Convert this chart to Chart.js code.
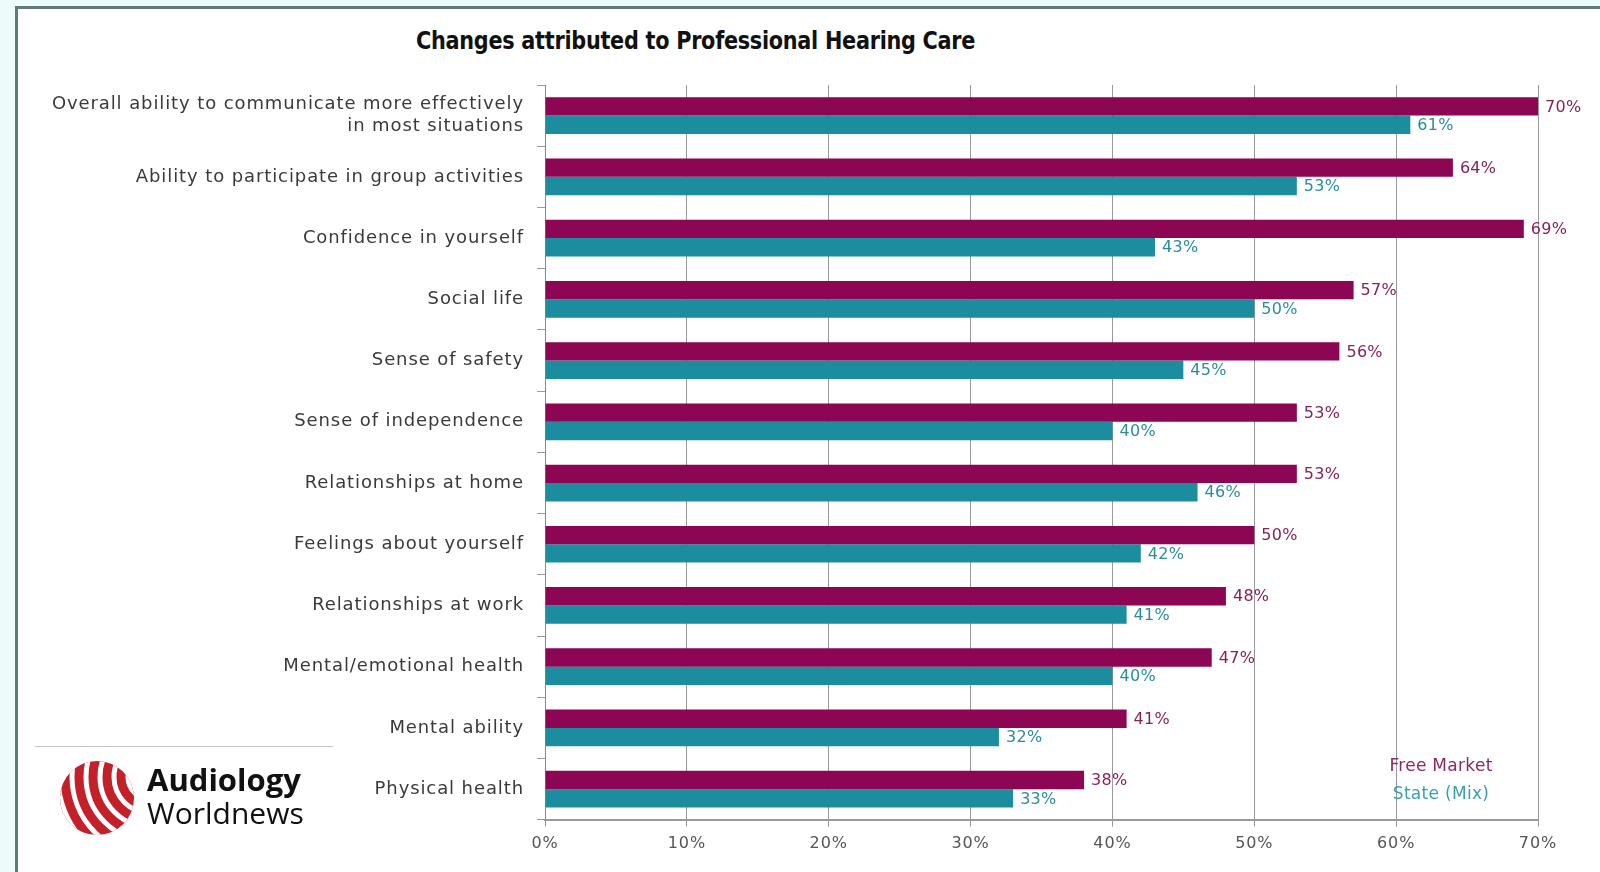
<!DOCTYPE html>
<html>
<head>
<meta charset="utf-8">
<script src="https://cdn.jsdelivr.net/npm/chart.js@4/dist/chart.umd.min.js"></script>
<style>
  html, body { margin: 0; padding: 0; }
  body { width: 1600px; height: 872px; background: #eefbfb; position: relative; overflow: hidden; }
  #frame { position: absolute; left: 15px; top: 6px; width: 1600px; height: 900px;
           background: #fff; border-left: 3px solid #5f7c76; border-top: 3px solid #5f7c76; }
  #title { position: absolute; left: 416px; top: 26px; font-family: "DejaVu Sans Condensed", "DejaVu Sans"; font-weight: bold;
           font-size: 25px; color: #111; letter-spacing: -0.3px; white-space: nowrap;
           transform: scaleX(0.925); transform-origin: left center; }
  #chart { position: absolute; left: 0; top: 0; }
  #rule { position: absolute; left: 35px; top: 746px; width: 298px; height: 1px; background: #c8c8c8; }
  #logo { position: absolute; left: 58px; top: 759px; }
  #brand { position: absolute; left: 147px; top: 762px; font-family: "Open Sans"; color: #111; line-height: 34px; }
  #brand b { font-size: 31px; font-weight: bold; display: block; }
  #brand span { font-size: 30px; display: block; }
</style>
</head>
<body>
<div id="frame"></div>
<div id="title">Changes attributed to Professional Hearing Care</div>
<canvas id="chart" width="1600" height="872"></canvas>
<div id="rule"></div>
<svg id="logo" width="78" height="78" viewBox="0 0 78 78">
  <defs><clipPath id="c"><circle cx="39" cy="39" r="37"/></clipPath></defs>
  <circle cx="39" cy="39" r="37" fill="#c4202a"/>
  <g clip-path="url(#c)" fill="none" stroke="#fff" stroke-width="5">
    <circle cx="92" cy="18" r="22"/>
    <circle cx="92" cy="18" r="36"/>
    <circle cx="92" cy="18" r="50"/>
    <circle cx="92" cy="18" r="64"/>
    <circle cx="92" cy="18" r="78"/>
    <circle cx="92" cy="18" r="92"/>
  </g>
</svg>
<div id="brand"><b>Audiology</b><span>Worldnews</span></div>

<script>
// categories, top to bottom
const categories = [
  ["Overall ability to communicate more effectively", "in most situations"],
  "Ability to participate in group activities",
  "Confidence in yourself",
  "Social life",
  "Sense of safety",
  "Sense of independence",
  "Relationships at home",
  "Feelings about yourself",
  "Relationships at work",
  "Mental/emotional health",
  "Mental ability",
  "Physical health"
];

// % of respondents
const freeMarket = [70, 64, 69, 57, 56, 53, 53, 50, 48, 47, 41, 38];
const stateMix   = [61, 53, 43, 50, 45, 40, 46, 42, 41, 40, 32, 33];

const xTicks = [0, 10, 20, 30, 40, 50, 60, 70];

const MAGENTA = "#8c0653";
const TEAL = "#1b8d9f";
const FONT = "DejaVu Sans";

// the original uses a wide geometric face, so spread the axis text a little
const wideText = {
  id: "wideText",
  beforeDraw(chart) { chart.ctx.letterSpacing = "0.9px"; }
};

// value labels at the end of each bar
const valueLabels = {
  id: "valueLabels",
  afterDatasetsDraw(chart) {
    const ctx = chart.ctx;
    ctx.save();
    ctx.letterSpacing = "0.3px";
    ctx.font = "16px '" + FONT + "'";
    ctx.textBaseline = "middle";
    ctx.textAlign = "left";
    chart.data.datasets.forEach((ds, i) => {
      const meta = chart.getDatasetMeta(i);
      ctx.fillStyle = ds.labelColor;
      meta.data.forEach((bar, j) => {
        ctx.fillText(ds.data[j] + "%", bar.x + 7, bar.y + 1);
      });
    });
    ctx.restore();
  }
};

// plain coloured-text legend, bottom right of plot
const textLegend = {
  id: "textLegend",
  afterDraw(chart) {
    const ctx = chart.ctx;
    const area = chart.chartArea;
    ctx.save();
    ctx.letterSpacing = "0.3px";
    ctx.font = "17px '" + FONT + "'";
    ctx.textAlign = "center";
    ctx.textBaseline = "middle";
    chart.data.datasets.forEach((ds, i) => {
      ctx.fillStyle = ds.legendColor;
      ctx.fillText(ds.label, area.right - 97, area.bottom - 53 + i * 28);
    });
    ctx.restore();
  }
};

new Chart(document.getElementById("chart"), {
  type: "bar",
  data: {
    labels: categories,
    datasets: [
      { label: "Free Market", data: freeMarket, backgroundColor: MAGENTA,
        labelColor: "#86225a", legendColor: "#8a2a62" },
      { label: "State (Mix)", data: stateMix, backgroundColor: TEAL,
        labelColor: "#2b8d9c", legendColor: "#3a9fb0" }
    ]
  },
  options: {
    indexAxis: "y",
    responsive: false,
    devicePixelRatio: 1,
    animation: false,
    layout: { padding: { left: 20, right: 62, top: 85, bottom: 12 } },
    datasets: { bar: { categoryPercentage: 0.6, barPercentage: 1.0 } },
    plugins: {
      legend: { display: false },
      tooltip: { enabled: false }
    },
    scales: {
      x: {
        min: 0,
        max: 70,
        afterBuildTicks(scale) { scale.ticks = xTicks.map(v => ({ value: v })); },
        grid: { color: "#9a9a9a", lineWidth: 1, tickLength: 7 },
        border: { color: "#9a9a9a", width: 2 },
        ticks: {
          padding: 7,
          color: "#555",
          font: { family: FONT, size: 16 },
          callback: v => v + "%"
        }
      },
      y: {
        afterFit(scale) { scale.width = 525; },
        grid: { drawOnChartArea: false, color: "#9a9a9a", tickLength: 8, offset: true },
        border: { color: "#8a8a8a", width: 1 },
        ticks: {
          padding: 13,
          color: "#3a3a3a",
          font: { family: FONT, size: 18 }
        }
      }
    }
  },
  plugins: [wideText, valueLabels, textLegend]
});
</script>
</body>
</html>
